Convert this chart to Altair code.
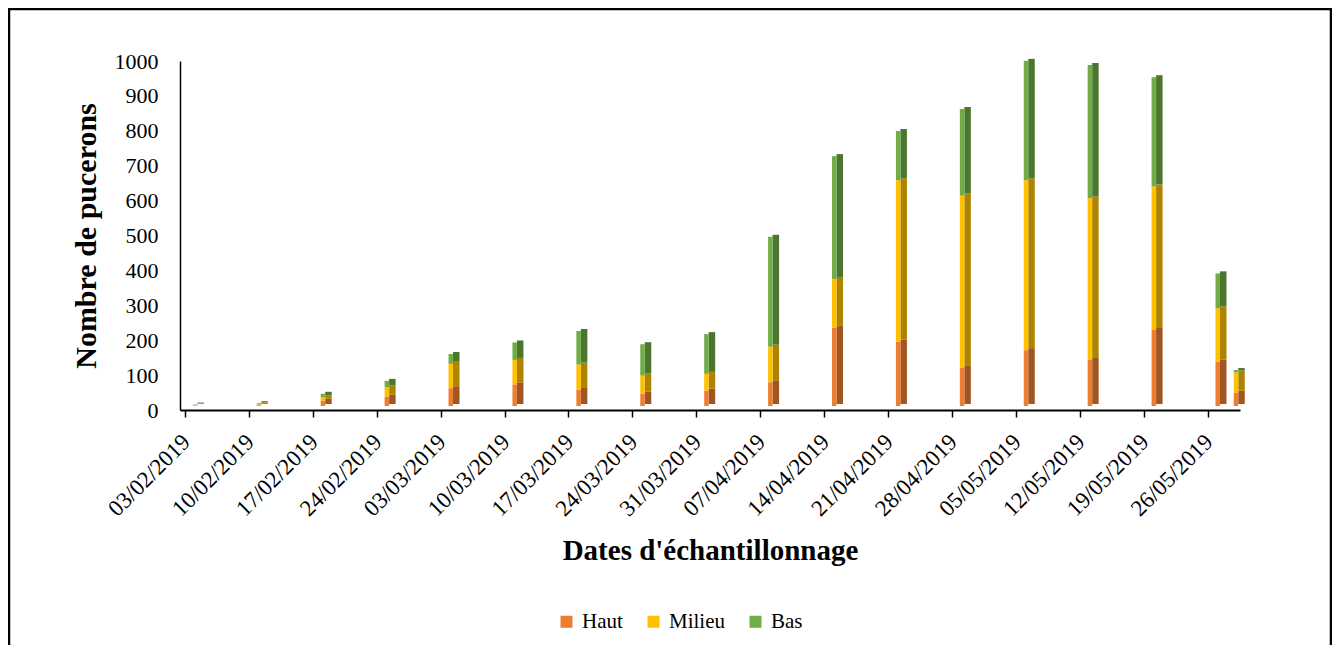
import altair as alt
import pandas as pd

# ---- data ----
dates = ["2019-02-04", "2019-02-11", "2019-02-18", "2019-02-25", "2019-03-04",
         "2019-03-11", "2019-03-18", "2019-03-25", "2019-04-01", "2019-04-08",
         "2019-04-15", "2019-04-22", "2019-04-29", "2019-05-06", "2019-05-13",
         "2019-05-20", "2019-05-27", "2019-05-29"]
haut   = [1, 2, 15, 27, 51, 62, 46, 36, 44, 68, 224, 184, 109, 160, 132, 218, 127, 38]
milieu = [1, 3, 10, 27, 70, 70, 73, 51, 48, 102, 140, 463, 494, 487, 463, 411, 153, 58]
bas    = [2, 3, 10, 18, 28, 50, 96, 90, 114, 315, 352, 141, 248, 342, 382, 313, 100, 7]

series = ["Haut", "Milieu", "Bas"]
front_colors = ["#ED7D31", "#FFC000", "#70AD47"]
side_colors = ["#A15521", "#AD8300", "#4C7630"]

tick_dates = [(2019, 2, 3), (2019, 2, 10), (2019, 2, 17), (2019, 2, 24), (2019, 3, 3),
              (2019, 3, 10), (2019, 3, 17), (2019, 3, 24), (2019, 3, 31), (2019, 4, 7),
              (2019, 4, 14), (2019, 4, 21), (2019, 4, 28), (2019, 5, 5), (2019, 5, 12),
              (2019, 5, 19), (2019, 5, 26)]
domain_dates = [(2019, 2, 3), (2019, 5, 29)]
y_ticks = list(range(0, 1001, 100))

rows = []
for i, d in enumerate(dates):
    for k, (name, vals) in enumerate(zip(series, [haut, milieu, bas])):
        rows.append({"date": d + "T00:00:00Z", "serie": name, "value": vals[i], "rank": k})
df = pd.DataFrame(rows)

FONT = "Liberation Serif"

def dt(t):
    return alt.DateTime(year=t[0], month=t[1], date=t[2], utc=True)

x_enc = alt.X(
    "date:T",
    scale=alt.Scale(type="utc", domain=[dt(t) for t in domain_dates]),
    axis=alt.Axis(
        values=[dt(t) for t in tick_dates], format="%d/%m/%Y",
        labelAngle=-45, labelAlign="right", labelBaseline="middle",
        labelOffset=1, labelPadding=21, labelOverlap=False, labelFlush=False,
        labelFont=FONT, labelFontSize=23, labelColor="black",
        ticks=True, tickSize=7, tickColor="black", tickWidth=1.5,
        domainColor="black", domainWidth=2, grid=False,
        title="Dates d'échantillonnage", titleFont=FONT, titleFontSize=29,
        titleFontWeight="bold", titleColor="black", titlePadding=16,
    ),
)
y_enc = alt.Y(
    "value:Q", stack="zero",
    scale=alt.Scale(domain=[0, 1000], nice=False),
    axis=alt.Axis(
        values=y_ticks, format="d", ticks=False, tickSize=0, grid=False,
        domainColor="black", domainWidth=1.5,
        labelFont=FONT, labelFontSize=22, labelColor="black", labelPadding=22,
        title="Nombre de pucerons", titleFont=FONT, titleFontSize=30,
        titleFontWeight="bold", titleColor="black", titlePadding=13,
    ),
)

base = alt.Chart(df).encode(x=x_enc, y=y_enc, order=alt.Order("rank:Q"))

front = base.mark_bar(size=4.5, xOffset=1, yOffset=-4, y2Offset=-4).encode(
    color=alt.Color(
        "serie:N",
        scale=alt.Scale(domain=series, range=front_colors),
        sort=series,
        legend=alt.Legend(
            orient="none", legendX=376, legendY=550, direction="horizontal",
            title=None, symbolType="square", symbolSize=144, symbolStrokeWidth=0,
            labelFont=FONT, labelFontSize=21, labelColor="black",
            columnPadding=20, labelOffset=5,
        ),
    )
)
side = base.mark_bar(size=6.5, xOffset=6.5, yOffset=-6, y2Offset=-6).encode(
    color=alt.Color(
        "serie:N",
        scale=alt.Scale(domain=series, range=side_colors),
        legend=None,
    )
)

frame = alt.Chart(pd.DataFrame({"a": [0]})).mark_rect(
    fillOpacity=0, stroke="black", strokeWidth=2.5
).encode(
    x=alt.value(-171), x2=alt.value(1151), y=alt.value(-52), y2=alt.value(700)
)

chart = alt.layer(side, front, frame).resolve_scale(color="independent").properties(
    width=1060, height=349,
    padding={"left": 172, "top": 53, "right": 92, "bottom": 235},
    autosize=alt.AutoSizeParams(type="none"),
    background="white",
).configure(font=FONT).configure_view(strokeWidth=0).configure_legend(
    labelFont=FONT, labelFontSize=21, labelColor="black"
)

chart.save("out.html", embed_options={"renderer": "svg", "actions": False})
